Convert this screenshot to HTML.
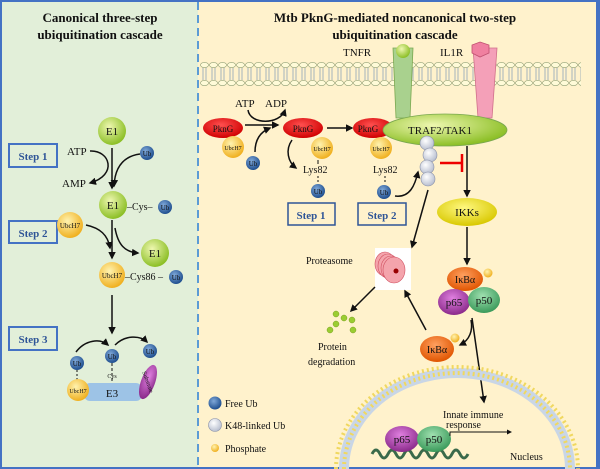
<!DOCTYPE html>
<html><head><meta charset="utf-8"><style>
html,body{margin:0;padding:0;background:#fff}
svg{display:block}
text{font-family:"Liberation Serif",serif;fill:#111}
.b{font-weight:bold}
</style></head><body>
<svg width="600" height="469" viewBox="0 0 600 469" xmlns="http://www.w3.org/2000/svg">
<defs>
<marker id="ar" viewBox="0 0 10 10" refX="8" refY="5" markerWidth="5" markerHeight="5" orient="auto"><path d="M0,0L10,5L0,10z" fill="#111"/></marker>
<radialGradient id="gE" cx="40%" cy="35%" r="65%"><stop offset="0" stop-color="#eef7b0"/><stop offset="1" stop-color="#8cbf26"/></radialGradient>
<radialGradient id="gU" cx="40%" cy="35%" r="65%"><stop offset="0" stop-color="#fff3b0"/><stop offset="1" stop-color="#f0b020"/></radialGradient>
<radialGradient id="gB" cx="40%" cy="35%" r="65%"><stop offset="0" stop-color="#7fa8d8"/><stop offset="1" stop-color="#1f4f8f"/></radialGradient>
<radialGradient id="gW" cx="40%" cy="35%" r="65%"><stop offset="0" stop-color="#ffffff"/><stop offset="1" stop-color="#b8bfd0"/></radialGradient>
<radialGradient id="gR" cx="45%" cy="35%" r="65%"><stop offset="0" stop-color="#ff5050"/><stop offset="1" stop-color="#d00000"/></radialGradient>
<radialGradient id="gO" cx="45%" cy="35%" r="65%"><stop offset="0" stop-color="#ffa060"/><stop offset="1" stop-color="#e05500"/></radialGradient>
<radialGradient id="gP" cx="45%" cy="35%" r="65%"><stop offset="0" stop-color="#e080e0"/><stop offset="1" stop-color="#8a2a8a"/></radialGradient>
<radialGradient id="gG" cx="45%" cy="35%" r="65%"><stop offset="0" stop-color="#a0e0b0"/><stop offset="1" stop-color="#3a9a5a"/></radialGradient>
<radialGradient id="gY" cx="45%" cy="35%" r="65%"><stop offset="0" stop-color="#fff880"/><stop offset="1" stop-color="#d8c800"/></radialGradient>
<pattern id="mem" x="200" y="62" width="9" height="24" patternUnits="userSpaceOnUse">
<ellipse cx="4.5" cy="3" rx="4" ry="2.6" fill="#fffbd8" stroke="#8a9a70" stroke-width="0.6"/>
<ellipse cx="4.5" cy="21" rx="4" ry="2.6" fill="#fffbd8" stroke="#8a9a70" stroke-width="0.6"/>
<path d="M3,6v12M6,6v12" stroke="#6a8ab0" stroke-width="0.6"/>
</pattern>
</defs>
<rect x="0" y="0" width="600" height="469" fill="#4472c4"/>
<rect x="2" y="2" width="196" height="465" fill="#e2efd9"/>
<rect x="198" y="2" width="398" height="465" fill="#fff2cc"/>
<line x1="198" y1="2" x2="198" y2="467" stroke="#5b9bd5" stroke-width="2" stroke-dasharray="8,5"/>

<text x="100" y="22" text-anchor="middle" class="b" font-size="13">Canonical  three-step</text>
<text x="100" y="39" text-anchor="middle" class="b" font-size="13">ubiquitination cascade</text>
<text x="395" y="22" text-anchor="middle" class="b" font-size="13">Mtb PknG-mediated noncanonical  two-step</text>
<text x="395" y="39" text-anchor="middle" class="b" font-size="13">ubiquitination cascade</text>

<!-- left panel -->
<g font-size="11">
<rect x="9" y="144" width="48" height="23" fill="none" stroke="#4472c4" stroke-width="2"/>
<text x="33" y="160" text-anchor="middle" class="b" fill="#2f5597" style="fill:#2f5597">Step 1</text>
<rect x="9" y="221" width="48" height="22" fill="none" stroke="#4472c4" stroke-width="2"/>
<text x="33" y="237" text-anchor="middle" class="b" style="fill:#2f5597">Step 2</text>
<rect x="9" y="327" width="48" height="23" fill="none" stroke="#4472c4" stroke-width="2"/>
<text x="33" y="343" text-anchor="middle" class="b" style="fill:#2f5597">Step 3</text>
<circle cx="112" cy="131" r="14" fill="url(#gE)"/><text x="112" y="135" text-anchor="middle">E1</text>
<line x1="112" y1="148" x2="112" y2="188" stroke="#111" stroke-width="1.5" marker-end="url(#ar)"/>
<text x="67" y="155">ATP</text><text x="62" y="187">AMP</text>
<path d="M90,151 C110,150 118,175 90,183" fill="none" stroke="#111" stroke-width="1.5" marker-end="url(#ar)"/>
<path d="M140,154 C125,156 115,165 114,186" fill="none" stroke="#111" stroke-width="1.5" marker-end="url(#ar)"/>
<circle cx="147" cy="153" r="7" fill="url(#gB)"/><text x="147" y="156" text-anchor="middle" font-size="7">Ub</text>
<circle cx="113" cy="205" r="14" fill="url(#gE)"/><text x="113" y="209" text-anchor="middle">E1</text>
<text x="127" y="210" font-size="10">–Cys–</text>
<circle cx="165" cy="207" r="7" fill="url(#gB)"/><text x="165" y="210" text-anchor="middle" font-size="7">Ub</text>
<circle cx="70" cy="225" r="13" fill="url(#gU)"/><text x="70" y="228" text-anchor="middle" font-size="7">UbcH7</text>
<path d="M86,225 C100,228 108,235 110,248" fill="none" stroke="#111" stroke-width="1.5" marker-end="url(#ar)"/>
<line x1="112" y1="220" x2="112" y2="258" stroke="#111" stroke-width="1.5" marker-end="url(#ar)"/>
<path d="M115,228 C118,245 125,252 138,253" fill="none" stroke="#111" stroke-width="1.5" marker-end="url(#ar)"/>
<circle cx="155" cy="253" r="14" fill="url(#gE)"/><text x="155" y="257" text-anchor="middle">E1</text>
<circle cx="112" cy="275" r="13" fill="url(#gU)"/><text x="112" y="278" text-anchor="middle" font-size="7">UbcH7</text>
<text x="125" y="280" font-size="10">–Cys86 –</text>
<circle cx="176" cy="277" r="7" fill="url(#gB)"/><text x="176" y="280" text-anchor="middle" font-size="7">Ub</text>
<line x1="112" y1="295" x2="112" y2="333" stroke="#111" stroke-width="1.5" marker-end="url(#ar)"/>
<rect x="84" y="383" width="58" height="18" rx="6" fill="#9dc3e6"/>
<text x="112" y="397" text-anchor="middle">E3</text>
<line x1="112" y1="363" x2="112" y2="383" stroke="#111" stroke-dasharray="3,2"/>
<text x="112" y="378" text-anchor="middle" font-size="6">Cys</text>
<line x1="77" y1="370" x2="77" y2="380" stroke="#111" stroke-dasharray="2,2"/>
<circle cx="78" cy="390" r="11" fill="url(#gU)"/><text x="78" y="393" text-anchor="middle" font-size="6">UbcH7</text>
<ellipse cx="148" cy="382" rx="7" ry="18" transform="rotate(20 148 382)" fill="url(#gP)"/>
<text x="148" y="384" text-anchor="middle" font-size="6" transform="rotate(70 148 382)">Substrate</text>
<circle cx="77" cy="363" r="7" fill="url(#gB)"/><text x="77" y="366" text-anchor="middle" font-size="7">Ub</text>
<circle cx="112" cy="356" r="7" fill="url(#gB)"/><text x="112" y="359" text-anchor="middle" font-size="7">Ub</text>
<circle cx="150" cy="351" r="7" fill="url(#gB)"/><text x="150" y="354" text-anchor="middle" font-size="7">Ub</text>
<path d="M76,352 C85,340 100,338 108,345" fill="none" stroke="#111" stroke-width="1.5" marker-end="url(#ar)"/>
<path d="M115,345 C125,335 140,335 147,342" fill="none" stroke="#111" stroke-width="1.5" marker-end="url(#ar)"/>
</g>

<!-- right panel -->
<rect x="200" y="62" width="381" height="24" fill="url(#mem)"/>
<g font-size="11">
<text x="343" y="56">TNFR</text><text x="440" y="56">IL1R</text>
<path d="M393,48 L413,48 L410,118 L396,118 Z" fill="#a9d18e" stroke="#7aa850" stroke-width="0.8"/>
<circle cx="403" cy="51" r="7" fill="url(#gE)"/>
<path d="M473,48 L497,48 L492,118 L478,118 Z" fill="#f4a0b8" stroke="#d0708a" stroke-width="0.8"/>
<polygon points="480,42 489,45 489,53 480,57 472,53 472,45" fill="#f080a0" stroke="#c05070" stroke-width="0.8"/>

<text x="235" y="107">ATP</text><text x="265" y="107">ADP</text>
<path d="M248,110 C250,125 280,125 285,110" fill="none" stroke="#111" stroke-width="1.5" marker-end="url(#ar)"/>
<line x1="245" y1="125" x2="278" y2="125" stroke="#111" stroke-width="1.5" marker-end="url(#ar)"/>
<path d="M255,152 C255,140 260,132 270,128" fill="none" stroke="#111" stroke-width="1.5" marker-end="url(#ar)"/>
<ellipse cx="223" cy="128" rx="20" ry="10" fill="url(#gR)"/><text x="223" y="132" text-anchor="middle" font-size="9">PknG</text>
<circle cx="233" cy="147" r="11" fill="url(#gU)"/><text x="233" y="150" text-anchor="middle" font-size="6">UbcH7</text>
<circle cx="253" cy="163" r="7" fill="url(#gB)"/><text x="253" y="166" text-anchor="middle" font-size="7">Ub</text>

<ellipse cx="303" cy="128" rx="20" ry="10" fill="url(#gR)"/><text x="303" y="132" text-anchor="middle" font-size="9">PknG</text>
<circle cx="322" cy="148" r="11" fill="url(#gU)"/><text x="322" y="151" text-anchor="middle" font-size="6">UbcH7</text>
<path d="M292,140 C285,150 288,162 296,168" fill="none" stroke="#111" stroke-width="1.5" marker-end="url(#ar)"/>
<text x="303" y="173" font-size="10">Lys82</text>
<line x1="318" y1="160" x2="318" y2="164" stroke="#111"/><line x1="318" y1="176" x2="318" y2="184" stroke="#111" stroke-dasharray="2,2"/>
<circle cx="318" cy="191" r="7" fill="url(#gB)"/><text x="318" y="194" text-anchor="middle" font-size="7">Ub</text>
<line x1="327" y1="128" x2="352" y2="128" stroke="#111" stroke-width="1.5" marker-end="url(#ar)"/>
<rect x="288" y="203" width="47" height="22" fill="#fff2cc" stroke="#2f5597" stroke-width="1.5"/>
<text x="311" y="219" text-anchor="middle" class="b" style="fill:#2f5597">Step 1</text>
<ellipse cx="373" cy="128" rx="20" ry="10" fill="url(#gR)"/><text x="368" y="132" text-anchor="middle" font-size="9">PknG</text>
<circle cx="381" cy="148" r="11" fill="url(#gU)"/><text x="381" y="151" text-anchor="middle" font-size="6">UbcH7</text>
<text x="373" y="173" font-size="10">Lys82</text>
<line x1="385" y1="176" x2="385" y2="184" stroke="#111" stroke-dasharray="2,2"/>
<circle cx="384" cy="192" r="7" fill="url(#gB)"/><text x="384" y="195" text-anchor="middle" font-size="7">Ub</text>
<rect x="358" y="203" width="48" height="22" fill="#fff2cc" stroke="#2f5597" stroke-width="1.5"/>
<text x="382" y="219" text-anchor="middle" class="b" style="fill:#2f5597">Step 2</text>
<path d="M395,196 C410,198 415,185 418,172" fill="none" stroke="#111" stroke-width="1.5" marker-end="url(#ar)"/>

<ellipse cx="445" cy="130" rx="62" ry="16" fill="url(#gE)" stroke="#7aa850" stroke-width="0.8"/>
<text x="440" y="134" text-anchor="middle">TRAF2/TAK1</text>
<circle cx="427" cy="143" r="7" fill="url(#gW)" stroke="#8890a8" stroke-width="0.6"/>
<circle cx="430" cy="155" r="7" fill="url(#gW)" stroke="#8890a8" stroke-width="0.6"/>
<circle cx="427" cy="167" r="7" fill="url(#gW)" stroke="#8890a8" stroke-width="0.6"/>
<circle cx="428" cy="179" r="7" fill="url(#gW)" stroke="#8890a8" stroke-width="0.6"/>
<line x1="440" y1="163" x2="461" y2="163" stroke="#e00" stroke-width="2.5"/>
<line x1="462" y1="154" x2="462" y2="172" stroke="#e00" stroke-width="2.5"/>
<line x1="467" y1="146" x2="467" y2="196" stroke="#111" stroke-width="1.5" marker-end="url(#ar)"/>
<ellipse cx="467" cy="212" rx="30" ry="14" fill="url(#gY)"/><text x="467" y="216" text-anchor="middle">IKKs</text>
<line x1="467" y1="227" x2="467" y2="264" stroke="#111" stroke-width="1.5" marker-end="url(#ar)"/>
<line x1="428" y1="190" x2="412" y2="247" stroke="#111" stroke-width="1.5" marker-end="url(#ar)"/>

<rect x="375" y="248" width="36" height="42" fill="#fff"/>
<g stroke="#d05060" stroke-width="0.6" fill="#f4a4ac">
<ellipse cx="385" cy="264" rx="10" ry="12"/><ellipse cx="388" cy="266" rx="10" ry="12"/><ellipse cx="391" cy="268" rx="10" ry="12"/><ellipse cx="394" cy="270" rx="11" ry="13"/>
</g>
<circle cx="396" cy="271" r="2.5" fill="#900"/>
<text x="306" y="264" font-size="10">Proteasome</text>
<line x1="375" y1="287" x2="351" y2="311" stroke="#111" stroke-width="1.5" marker-end="url(#ar)"/>
<g fill="#9acd32" stroke="#7aa020" stroke-width="0.5">
<circle cx="336" cy="314" r="3"/><circle cx="344" cy="318" r="3"/><circle cx="352" cy="320" r="3"/><circle cx="336" cy="324" r="3"/><circle cx="330" cy="330" r="3"/><circle cx="353" cy="330" r="3"/></g>
<text x="318" y="350" font-size="10">Protein</text>
<text x="308" y="365" font-size="10">degradation</text>
<line x1="426" y1="330" x2="405" y2="291" stroke="#111" stroke-width="1.5" marker-end="url(#ar)"/>

<ellipse cx="465" cy="279" rx="18" ry="12" fill="url(#gO)"/><text x="465" y="283" text-anchor="middle" font-size="10">IκBα</text>
<circle cx="488" cy="273" r="4.5" fill="url(#gU)"/>
<ellipse cx="454" cy="302" rx="16" ry="13" fill="url(#gP)"/><text x="454" y="306" text-anchor="middle">p65</text>
<ellipse cx="484" cy="300" rx="16" ry="13" fill="url(#gG)"/><text x="484" y="304" text-anchor="middle">p50</text>
<path d="M471,320 C473,330 470,340 460,345" fill="none" stroke="#111" stroke-width="1.5" marker-end="url(#ar)"/>
<line x1="472" y1="318" x2="484" y2="402" stroke="#111" stroke-width="1.5" marker-end="url(#ar)"/>
<ellipse cx="437" cy="349" rx="17" ry="13" fill="url(#gO)"/><text x="437" y="353" text-anchor="middle" font-size="10">IκBα</text>
<circle cx="455" cy="338" r="4.5" fill="url(#gU)"/>

<path d="M344,469 A113,96 0 0 1 570,469" fill="none" stroke="#c9d6e6" stroke-width="10"/>
<path d="M344,469 A113,96 0 0 1 570,469" fill="none" stroke="#f0d860" stroke-width="4" stroke-dasharray="2,3"/>
<path d="M336,469 A121,102 0 0 1 578,469" fill="none" stroke="#f0d860" stroke-width="4" stroke-dasharray="2,3"/>
<path d="M372,454 q4,-8 8,0 t8,0 t8,0 t8,0 t8,0 t8,0 t8,0 t8,0 t8,0 t8,0 t8,0 t8,0" fill="none" stroke="#3a6a4a" stroke-width="3"/>
<ellipse cx="402" cy="439" rx="17" ry="13" fill="url(#gP)"/><text x="402" y="443" text-anchor="middle">p65</text>
<ellipse cx="434" cy="439" rx="17" ry="13" fill="url(#gG)"/><text x="434" y="443" text-anchor="middle">p50</text>
<polyline points="450,436 450,432 511,432" fill="none" stroke="#111" stroke-width="1" marker-end="url(#ar)"/>
<text x="443" y="418" font-size="10">Innate immune</text>
<text x="446" y="428" font-size="10">response</text>
<text x="510" y="460" font-size="10">Nucleus</text>

<circle cx="215" cy="403" r="6.5" fill="url(#gB)"/><text x="225" y="407" font-size="10">Free Ub</text>
<circle cx="215" cy="425" r="6.5" fill="url(#gW)" stroke="#8890a8" stroke-width="0.6"/><text x="225" y="429" font-size="10">K48-linked Ub</text>
<circle cx="215" cy="448" r="4" fill="url(#gU)"/><text x="225" y="452" font-size="10">Phosphate</text>
</g>
</svg>
</body></html>
